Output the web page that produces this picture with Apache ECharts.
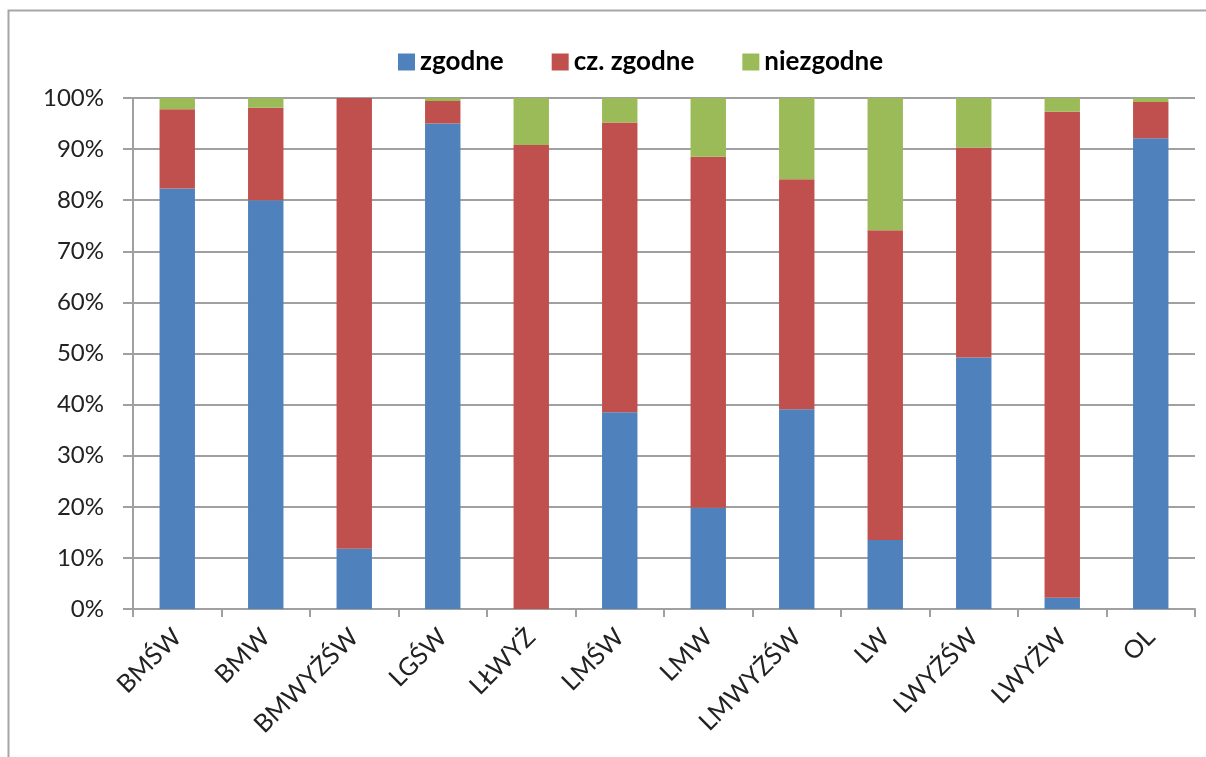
<!DOCTYPE html>
<html>
<head>
<meta charset="utf-8">
<script src="https://cdn.jsdelivr.net/npm/echarts@6/dist/echarts.min.js"></script>
<style>
html,body{margin:0;padding:0;background:#fff;}
#chart{width:1206px;height:757px;}
</style>
</head>
<body>
<div id="chart"></div>
<script>
const categories = ['BMŚW','BMW','BMWYŻŚW','LGŚW','LŁWYŻ','LMŚW','LMW','LMWYŻŚW','LW','LWYŻŚW','LWYŻW','OL'];
const seriesNames = ['zgodne','cz. zgodne','niezgodne'];
const zgodne =    [82.3, 80.0, 11.8, 95.0,  0.0, 38.5, 19.8, 39.1, 13.5, 49.2,  2.2, 92.1];
const czZgodne =  [15.5, 18.1, 88.2,  4.4, 90.8, 56.7, 68.7, 45.0, 60.6, 41.1, 95.1,  7.1];
const niezgodne = [ 2.2,  1.9,  0.0,  0.6,  9.2,  4.8, 11.5, 15.9, 25.9,  9.7,  2.7,  0.8];
const yTicks = [0,10,20,30,40,50,60,70,80,90,100];
const colors = ['#4F81BD','#C0504D','#9BBB59'];

const chart = echarts.init(document.getElementById('chart'));
const FONT = 'Lato, "Open Sans", sans-serif';
const values = [zgodne, czZgodne, niezgodne];
chart.setOption({
  animation: false,
  backgroundColor: '#fff',
  color: colors,
  textStyle: { fontFamily: FONT },
  graphic: [{
    type: 'rect',
    shape: { x: 8.5, y: 10.5, width: 1400, height: 900 },
    style: { fill: 'none', stroke: '#a6a6a6', lineWidth: 2 },
    silent: true, z: -1
  }],
  legend: {
    left: 393, top: 44,
    itemWidth: 17, itemHeight: 17, itemGap: 48,
    icon: 'rect',
    textStyle: { fontSize: 26, color: '#000', fontWeight: 'bold', fontFamily: FONT },
    data: seriesNames
  },
  grid: { left: 133, right: 11, top: 98, bottom: 148, containLabel: false },
  xAxis: {
    type: 'category',
    data: categories,
    axisLine: { lineStyle: { color: '#a0a0a0', width: 2 } },
    axisTick: { show: true, length: 8, lineStyle: { color: '#a0a0a0', width: 2 } },
    axisLabel: { rotate: 45, fontSize: 25, color: '#222', margin: 24, interval: 0, fontFamily: FONT }
  },
  yAxis: {
    type: 'value',
    min: yTicks[0], max: yTicks[yTicks.length-1], interval: 10,
    axisLine: { show: true, lineStyle: { color: '#a0a0a0', width: 2 } },
    axisTick: { show: true, length: 10, lineStyle: { color: '#a0a0a0', width: 2 } },
    splitLine: { lineStyle: { color: '#a0a0a0', width: 2 } },
    axisLabel: { formatter: '{value}%', fontSize: 24, color: '#222', margin: 29, fontFamily: FONT }
  },
  series: seriesNames.map((n, i) => ({
    name: n,
    type: 'bar',
    stack: 'total',
    barWidth: '40%',
    data: values[i],
    itemStyle: { color: colors[i] }
  }))
});
</script>
</body>
</html>
